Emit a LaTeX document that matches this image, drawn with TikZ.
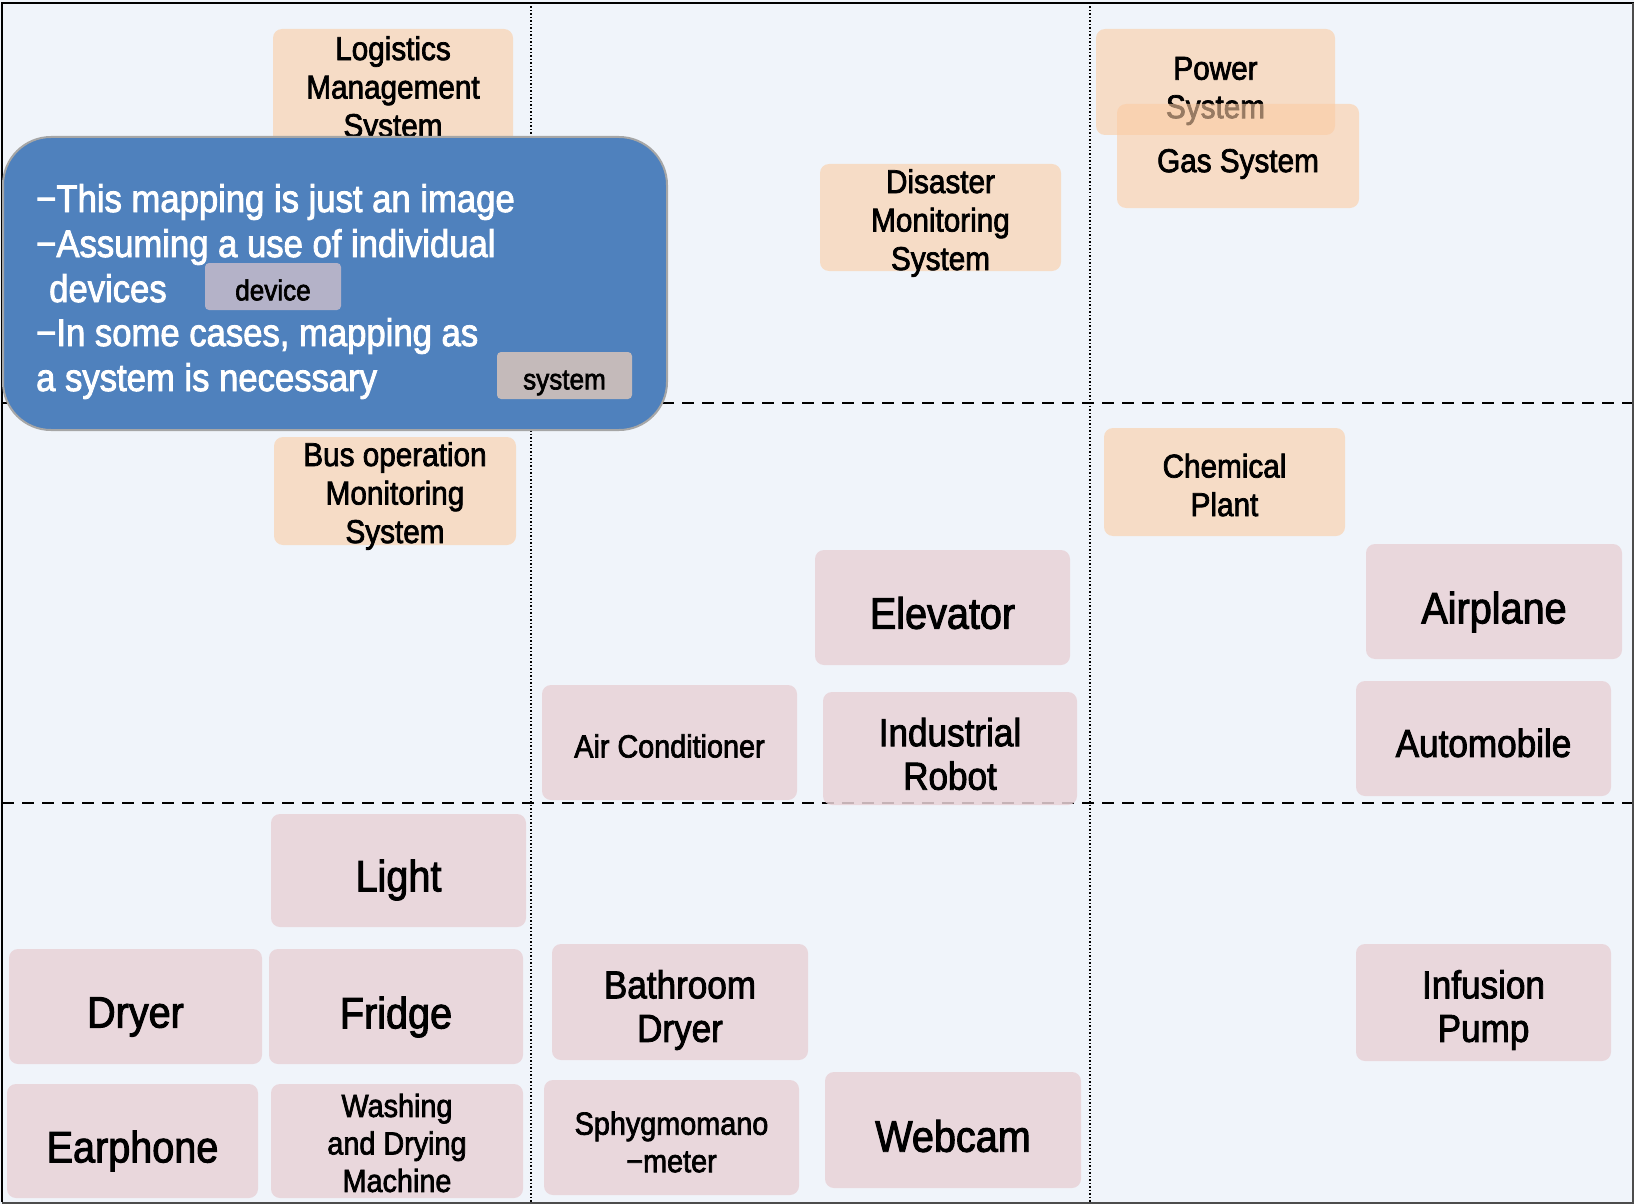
\documentclass[tikz,border=0pt]{standalone}
\usepackage{fontspec}
\setmainfont{Liberation Sans}[FakeStretch=0.9,FakeBold=2.2]
\definecolor{bgc}{RGB}{240,244,250}
\definecolor{sysc}{RGB}{248,216,189}
\definecolor{gasc}{RGB}{252,204,164}
\definecolor{devc}{RGB}{232,210,215}
\definecolor{noteblue}{RGB}{79,129,189}
\definecolor{notebd}{RGB}{166,166,166}
\definecolor{devlab}{RGB}{180,178,200}
\definecolor{syslab}{RGB}{196,186,186}
\begin{document}
\begin{tikzpicture}[x=1pt,y=-1pt,
  sysbox/.style={fill=sysc, fill opacity=0.85, rounded corners=9pt, inner sep=0pt},
  devbox/.style={fill=devc, fill opacity=0.85, rounded corners=9pt, inner sep=0pt},
  txs/.style={align=center, inner sep=0pt, font=\fontsize{33}{38.5}\selectfont},
  big/.style={align=center, inner sep=0pt, font=\fontsize{44}{50}\selectfont},
  mid/.style={align=center, inner sep=0pt, font=\fontsize{39}{43.5}\selectfont},
  sml/.style={align=center, inner sep=0pt, font=\fontsize{32}{37.5}\selectfont},
  wt/.style={text=white, inner sep=0pt, anchor=base west, font=\fontsize{38.5}{45}\selectfont},
  lab/.style={inner sep=0pt, font=\fontsize{29}{34}\selectfont},
  gridv/.style={line width=1.5pt, dotted},
  gridh/.style={line width=2pt, dash pattern=on 12pt off 8pt},
]
\useasboundingbox (0,0) rectangle (1634,1204);
\fill[bgc] (0,0) rectangle (1634,1204);
% grid
\coordinate (v1t) at (531,3); \coordinate (v1b) at (531,1202);
\coordinate (v2t) at (1090,3); \coordinate (v2b) at (1090,1202);
\coordinate (h1l) at (2,403); \coordinate (h1r) at (1634,403);
\coordinate (h2l) at (2,803); \coordinate (h2r) at (1634,803);
\draw[gridv] (v1t) -- (v1b);
\draw[gridv] (v2t) -- (v2b);
\draw[gridh] (h1l) -- (h1r);
\draw[gridh] (h2l) -- (h2r);
% frame
\draw[line width=2pt] (2,1202) -- (2,3) -- (1634,3);
\draw[line width=1.5pt, black!70] (2,1203) -- (1633,1203) -- (1633,3);

% system boxes
\node[sysbox, minimum width=240pt, minimum height=116pt] (logB) at (393,87) {};
\node[txs] (log) at (393,90) {Logistics\\Management\\System};
\node[sysbox, minimum width=241pt, minimum height=107pt] (disB) at (940.5,217.5) {};
\node[txs] (dis) at (940.5,223) {Disaster\\Monitoring\\System};
\node[sysbox, minimum width=239pt, minimum height=106pt] (powB) at (1215.5,82) {};
\node[txs] (pow) at (1215.5,91) {Power\\System};
\node[fill=gasc, fill opacity=0.6, rounded corners=9pt, inner sep=0pt, minimum width=242pt, minimum height=104pt] (gasB) at (1238,156) {};
\node[txs] (gas) at (1238,164) {Gas System};
\node[sysbox, minimum width=242pt, minimum height=108pt] (busB) at (395,491) {};
\node[txs] (bus) at (395,496) {Bus operation\\Monitoring\\System};
\node[sysbox, minimum width=241pt, minimum height=108pt] (chemB) at (1224.5,482) {};
\node[txs] (chem) at (1224.5,485) {Chemical\\Plant};

% device boxes
\node[devbox, minimum width=255pt, minimum height=115pt] (eleB) at (942.5,607.5) {};
\node[big] (ele) at (942.5,613) {Elevator};
\node[devbox, minimum width=255pt, minimum height=115pt] (airB) at (669.5,742.5) {};
\node[sml] (air) at (669.5,746) {Air Conditioner};
\node[devbox, minimum width=254pt, minimum height=113pt] (robB) at (950,748.5) {};
\node[mid] (rob) at (950,754) {Industrial\\Robot};
\node[devbox, minimum width=256pt, minimum height=115pt] (aplB) at (1494,601.5) {};
\node[big] (apl) at (1494,612) {Airplane};
\node[devbox, minimum width=255pt, minimum height=115pt] (autoB) at (1483.5,738.5) {};
\node[mid] (auto) at (1483.5,743) {Automobile};
\node[devbox, minimum width=255pt, minimum height=113pt] (ligB) at (398.5,870.5) {};
\node[big] (lig) at (398.5,880) {Light};
\node[devbox, minimum width=253pt, minimum height=115pt] (dryB) at (135.5,1006.5) {};
\node[big] (dry) at (135.5,1017) {Dryer};
\node[devbox, minimum width=254pt, minimum height=115pt] (friB) at (396,1006.5) {};
\node[big] (fri) at (396,1017) {Fridge};
\node[devbox, minimum width=251pt, minimum height=114pt] (earB) at (132.5,1141) {};
\node[big] (ear) at (132.5,1151) {Earphone};
\node[devbox, minimum width=252pt, minimum height=114pt] (washB) at (397,1141) {};
\node[sml] (wash) at (397,1143) {Washing\\and Drying\\Machine};
\node[devbox, minimum width=256pt, minimum height=116pt] (bathB) at (680,1002) {};
\node[mid] (bath) at (680,1010) {Bathroom\\Dryer};
\node[devbox, minimum width=255pt, minimum height=115pt] (sphB) at (671.5,1137.5) {};
\node[sml] (sph) at (671.5,1142) {Sphygmomano\\−meter};
\node[devbox, minimum width=256pt, minimum height=116pt] (webB) at (953,1130) {};
\node[big] (web) at (953,1136) {Webcam};
\node[devbox, minimum width=255pt, minimum height=117pt] (infB) at (1483.5,1002.5) {};
\node[mid] (inf) at (1483.5,1010) {Infusion\\Pump};

% note box
\node[draw=notebd, line width=2pt, fill=noteblue, rounded corners=48pt, minimum width=664pt, minimum height=293pt, inner sep=0pt] (note) at (335,283.5) {};
\node[wt] (n1) at (36,212) {−This mapping is just an image};
\node[wt] (n2) at (36,257) {−Assuming a use of individual};
\node[wt] (n3) at (49,302) {devices};
\node[wt] (n4) at (36,346) {−In some cases, mapping as};
\node[wt] (n5) at (36,391) {a system is necessary};
\node[fill=devlab, rounded corners=4pt, inner sep=0pt, minimum width=136pt, minimum height=47pt] (devL) at (273,286.5) {};
\node[lab] (devT) at (273,290) {device};
\node[fill=syslab, rounded corners=4pt, inner sep=0pt, minimum width=135pt, minimum height=47pt] (sysL) at (564.5,375.5) {};
\node[lab] (sysT) at (564.5,383) {system};
\end{tikzpicture}
\end{document}
